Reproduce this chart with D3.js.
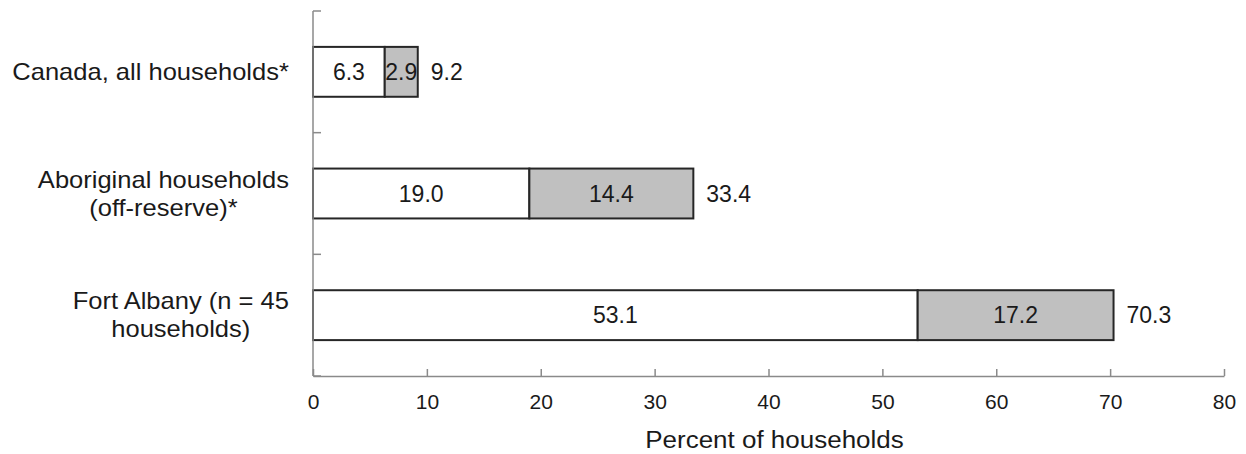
<!DOCTYPE html>
<html>
<head>
<meta charset="utf-8">
<script src="https://cdn.jsdelivr.net/npm/d3@7"></script>
<style>
  html, body { margin: 0; padding: 0; background: #ffffff; }
  svg { display: block; }
  text { font-family: "Liberation Sans", Arial, sans-serif; fill: #1a1a1a; }
</style>
</head>
<body>
<svg id="chart" width="1246" height="454"></svg>
<script>
// ---- data ----
const categories = [
  ["Canada, all households*"],
  ["Aboriginal households", "(off-reserve)*"],
  ["Fort Albany (n = 45", "households)"]
];
const categoryKeys = ["Canada", "Aboriginal", "FortAlbany"];
const seriesWhite = [6.3, 19.0, 53.1];
const seriesGrey = [2.9, 14.4, 17.2];
const totals = [9.2, 33.4, 70.3];
const xTicks = [0, 10, 20, 30, 40, 50, 60, 70, 80];
const xTitle = "Percent of households";

// ---- layout ----
const svg = d3.select("#chart");
const x = d3.scaleLinear().domain([0, 80]).range([313, 1224]);
const y = d3.scaleBand().domain(categoryKeys).range([11, 376])
  .paddingInner(0.59).paddingOuter(0.295);
const step = y.step();
const axisColor = "#8a8a8a";

// bars
const g = svg.append("g");
categoryKeys.forEach((k, i) => {
  const y0 = y(k), h = y.bandwidth();
  g.append("rect")
    .attr("x", x(0)).attr("y", y0)
    .attr("width", x(seriesWhite[i]) - x(0)).attr("height", h)
    .attr("fill", "#ffffff").attr("stroke", "#262626").attr("stroke-width", 2);
  g.append("rect")
    .attr("x", x(seriesWhite[i])).attr("y", y0)
    .attr("width", x(seriesWhite[i] + seriesGrey[i]) - x(seriesWhite[i])).attr("height", h)
    .attr("fill", "#c0c0c0").attr("stroke", "#262626").attr("stroke-width", 2);
  const cy = y0 + h / 2;
  g.append("text").attr("x", x(seriesWhite[i] / 2)).attr("y", cy)
    .attr("dy", "0.36em").attr("text-anchor", "middle").attr("font-size", 23)
    .text(seriesWhite[i].toFixed(1));
  g.append("text").attr("x", x(seriesWhite[i] + seriesGrey[i] / 2)).attr("y", cy)
    .attr("dy", "0.36em").attr("text-anchor", "middle").attr("font-size", 23)
    .text(seriesGrey[i].toFixed(1));
  g.append("text").attr("x", x(totals[i]) + 13).attr("y", cy)
    .attr("dy", "0.36em").attr("text-anchor", "start").attr("font-size", 23)
    .text(totals[i].toFixed(1));
});

// y axis line + ticks at band boundaries
svg.append("line").attr("x1", x(0)).attr("x2", x(0))
  .attr("y1", y.range()[0]).attr("y2", y.range()[1])
  .attr("stroke", axisColor).attr("stroke-width", 1.5);
const boundaries = [y.range()[0]].concat(categoryKeys.map(k => y(k) + y.bandwidth() + (step - y.bandwidth()) / 2));
boundaries.forEach(b => {
  svg.append("line").attr("x1", x(0)).attr("x2", x(0) + 8)
    .attr("y1", b).attr("y2", b).attr("stroke", axisColor).attr("stroke-width", 1.5);
});

// x axis
const xAxis = d3.axisBottom(x).tickValues(xTicks).tickSizeInner(-7).tickSizeOuter(0).tickPadding(18)
  .tickFormat(d3.format("d"));
const ax = svg.append("g").attr("transform", "translate(0,376)").call(xAxis);
ax.select(".domain").attr("stroke", axisColor).attr("stroke-width", 1.5);
ax.selectAll(".tick line").attr("stroke", axisColor).attr("stroke-width", 1.5);
ax.selectAll(".tick text").attr("font-size", 21).attr("font-family", "Liberation Sans, Arial, sans-serif").attr("fill", "#1a1a1a");

svg.append("text").attr("y", 448).attr("x", 0)
  .attr("text-anchor", "middle").attr("font-size", 23)
  .attr("transform", `translate(${(x(0) + x(80)) / 2 + 6},0) scale(1.13,1)`)
  .text(xTitle);

// category labels
const fs = 23, lh = 28, capH = 0.716 * fs, sx = 1.11;
categoryKeys.forEach((k, i) => {
  const lines = categories[i];
  const t = svg.append("text").attr("font-size", fs).attr("text-anchor", "middle");
  const cy = y(k) + y.bandwidth() / 2;
  lines.forEach((ln, j) => {
    t.append("tspan").attr("x", 0).attr("y", cy + capH / 2 + (j - (lines.length - 1) / 2) * lh).text(ln);
  });
  let maxW = 0;
  t.selectAll("tspan").each(function () { maxW = Math.max(maxW, this.getComputedTextLength()); });
  t.attr("transform", `translate(${289 - maxW * sx / 2},0) scale(${sx},1)`);
});
</script>
</body>
</html>
